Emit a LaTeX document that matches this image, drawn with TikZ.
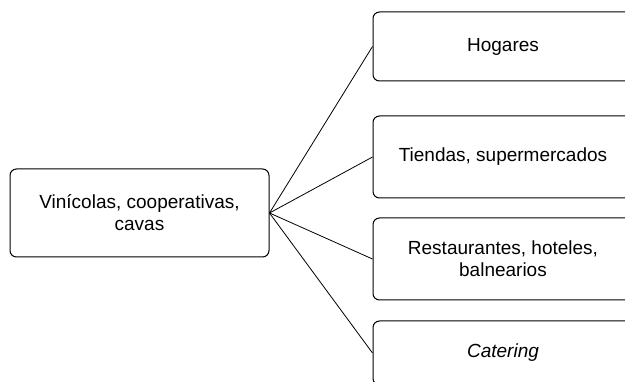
\documentclass[tikz,border=0pt]{standalone}
\usepackage{fontspec}
\setmainfont{Liberation Sans}
\begin{document}
\begin{tikzpicture}[x=1pt,y=-1pt,
  box/.style={draw=black,line width=1pt,rounded corners=6.5pt,align=center,
    minimum width=260pt,inner sep=0pt,font=\fontsize{19}{22}\selectfont},
  link/.style={draw=black,line width=0.8pt}]
\clip (0,0) rectangle (625,382);
\fill[white] (0,0) rectangle (625,382);
\node[box,minimum width=259pt,minimum height=88pt] (src) at (139.5,213) {Vinícolas, cooperativas,\\cavas};
\node[box,minimum height=69pt] (b1) at (503,46.5) {Hogares};
\node[box,minimum height=82pt] (b2) at (503,157) {Tiendas, supermercados};
\node[box,minimum height=82pt] (b3) at (503,259) {Restaurantes, hoteles,\\balnearios};
\node[box,minimum height=64pt] (b4) at (503,353) {\textit{Catering}};
\draw[link] (src.east) -- (b1.west);
\draw[link] (src.east) -- (b2.west);
\draw[link] (src.east) -- (b3.west);
\draw[link] (src.east) -- (b4.west);
\end{tikzpicture}
\end{document}
